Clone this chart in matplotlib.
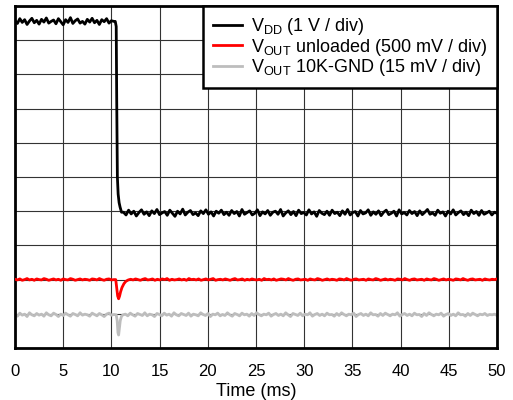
import numpy as np
import matplotlib
matplotlib.use('Agg')
import matplotlib.pyplot as plt

plt.rcParams['font.family'] = ['Liberation Sans', 'DejaVu Sans']
plt.rcParams['mathtext.fontset'] = 'custom'
plt.rcParams['mathtext.rm'] = 'Liberation Sans'

# values in scope divisions (0..10), time in ms
vdd_pre = [9.57, 9.49, 9.63, 9.52, 9.60, 9.46, 9.56, 9.64, 9.51, 9.58,
           9.47, 9.61, 9.53, 9.65, 9.50, 9.55, 9.59, 9.48, 9.63, 9.54,
           9.45, 9.60, 9.52, 9.66, 9.49, 9.57, 9.62, 9.50, 9.55, 9.47,
           9.61, 9.53, 9.64, 9.51, 9.58, 9.46, 9.60, 9.54, 9.63, 9.50,
           9.57, 9.55]
vdd_edge_t = [10.4, 10.5, 10.55, 10.62, 10.7, 10.8, 10.9, 11.05]
vdd_edge = [9.55, 9.40, 7.30, 5.00, 4.50, 4.25, 4.12, 3.97]
vdd_post = [3.97, 3.89, 4.03, 3.92, 4.00, 3.86, 3.96, 4.04, 3.91, 3.98,
            3.87, 4.01, 3.93, 4.05, 3.90, 3.95, 3.99, 3.88, 4.03, 3.94,
            3.85, 4.00, 3.92, 4.06, 3.89, 3.97, 4.02, 3.90, 3.95, 3.87,
            4.01, 3.93, 4.04, 3.91, 3.98, 3.86, 4.00, 3.94, 4.03, 3.90,
            3.97, 3.88, 4.02, 3.93, 3.99, 3.86, 4.05, 3.91, 3.96, 4.01,
            3.89, 3.94, 4.04, 3.87, 3.98, 3.92, 4.02, 3.88, 3.97, 4.00,
            3.91, 4.05, 3.86, 3.95, 4.01, 3.90, 3.99, 3.87, 4.03, 3.93,
            3.96, 3.89, 4.04, 3.92, 3.98, 3.85, 4.02, 3.94, 3.90, 4.00,
            3.88, 4.03, 3.93, 3.97, 3.87, 4.01, 3.91, 4.05, 3.89, 3.96,
            3.99, 3.86, 4.02, 3.92, 3.95, 4.04, 3.88, 3.98, 3.91, 4.01,
            3.87, 3.97, 4.03, 3.90, 3.94, 4.00, 3.86, 4.04, 3.92, 3.96,
            3.89, 4.02, 3.93, 3.99, 3.87, 4.01, 3.90, 3.97, 4.05, 3.91,
            3.95, 3.88, 4.03, 3.94, 3.98, 3.86, 4.00, 3.92, 4.04, 3.89,
            3.96, 4.01, 3.90, 3.97, 3.87, 4.03, 3.93, 3.99, 3.88, 4.02,
            3.91, 3.95, 4.00, 3.89, 3.97, 3.94]

red_pre = [2.01, 1.99, 2.02, 1.98, 2.00, 2.03, 1.99, 2.01, 1.98, 2.02,
           2.00, 1.99, 2.03, 2.01, 1.98, 2.00, 2.02, 1.99, 2.01, 1.98,
           2.02, 2.00, 1.99, 2.03, 2.01, 1.98, 2.00, 2.02, 1.99, 2.01,
           2.00, 1.98, 2.02, 2.01, 1.99, 2.03, 2.00, 1.98, 2.01, 2.02,
           1.99, 2.00]
red_dip_t = [10.45, 10.55, 10.65, 10.75, 10.85, 10.95, 11.1, 11.3, 11.5, 11.75]
red_dip = [2.00, 1.75, 1.52, 1.44, 1.52, 1.64, 1.77, 1.88, 1.95, 1.99]
red_post = [2.01, 1.99, 2.02, 2.00, 1.98, 2.01, 2.03, 1.99, 2.00, 2.02,
            1.98, 2.01, 1.99, 2.02, 2.00, 2.03, 1.98, 2.01, 1.99, 2.00,
            2.02, 1.99, 2.01, 1.98, 2.03, 2.00, 2.01, 1.99, 2.02, 1.98,
            2.00, 2.02, 1.99, 2.01, 2.03, 1.98, 2.00, 2.01, 1.99, 2.02,
            2.00, 1.98, 2.01, 2.03, 1.99, 2.00, 2.02, 1.98, 2.01, 1.99,
            2.02, 2.00, 1.99, 2.01, 1.98, 2.03, 2.00, 2.01, 1.99, 2.02,
            1.98, 2.00, 2.02, 2.01, 1.99, 2.03, 2.00, 1.98, 2.01, 2.02,
            1.99, 2.00, 2.01, 1.98, 2.02, 2.00, 1.99, 2.03, 2.01, 1.98,
            2.00, 2.02, 1.99, 2.01, 2.00, 1.98, 2.02, 2.01, 1.99, 2.03,
            2.00, 1.98, 2.01, 2.02, 1.99, 2.00, 2.01, 1.98, 2.02, 2.00,
            1.99, 2.03, 2.01, 1.98, 2.00, 2.02, 1.99, 2.01, 2.00, 1.98,
            2.02, 2.01, 1.99, 2.03, 2.00, 1.98, 2.01, 2.02, 1.99, 2.00,
            2.01, 1.98, 2.02, 2.00, 1.99, 2.03, 2.01, 1.98, 2.00, 2.02,
            1.99, 2.01, 2.00, 1.98, 2.02, 2.01, 1.99, 2.03, 2.00, 1.98,
            2.01, 2.02, 1.99, 2.00, 2.01, 1.98, 2.02, 2.00, 1.99, 2.01,
            2.00, 2.02]

gray_pre = [0.98, 0.93, 1.02, 0.96, 0.99, 0.92, 1.03, 0.97, 0.94, 1.01,
            0.96, 0.99, 0.93, 1.03, 0.97, 0.94, 1.02, 0.98, 0.92, 0.99,
            0.95, 1.02, 0.97, 0.93, 1.01, 0.98, 0.94, 1.03, 0.96, 0.99,
            0.97, 0.93, 1.02, 0.98, 0.94, 1.01, 0.97, 0.92, 0.99, 1.02,
            0.96, 0.98]
gray_dip_t = [10.5, 10.6, 10.68, 10.75, 10.82, 10.92, 11.05, 11.2]
gray_dip = [0.97, 0.80, 0.45, 0.38, 0.55, 0.80, 0.93, 0.97]
gray_post = [0.99, 0.94, 1.02, 0.97, 0.93, 1.01, 0.98, 0.95, 1.03, 0.94,
             0.99, 0.97, 0.92, 1.01, 0.98, 0.94, 1.02, 0.96, 0.99, 0.93,
             1.03, 0.97, 0.94, 1.01, 0.98, 0.95, 1.02, 0.93, 0.99, 0.97,
             0.94, 1.03, 0.98, 0.95, 1.01, 0.92, 0.99, 0.97, 1.02, 0.94,
             0.98, 0.95, 1.03, 0.97, 0.93, 1.01, 0.98, 0.94, 1.02, 0.97,
             0.99, 0.93, 1.01, 0.95, 1.03, 0.98, 0.94, 0.99, 0.97, 1.02,
             0.93, 0.98, 1.01, 0.95, 0.99, 0.94, 1.03, 0.97, 0.92, 1.01,
             0.98, 0.95, 1.02, 0.94, 0.99, 0.97, 1.03, 0.93, 0.98, 1.01,
             0.95, 0.99, 0.94, 1.02, 0.97, 0.98, 0.93, 1.01, 0.95, 1.03,
             0.98, 0.94, 0.99, 0.97, 1.02, 0.92, 0.98, 1.01, 0.95, 0.99,
             0.94, 1.03, 0.97, 0.98, 0.93, 1.01, 0.95, 1.02, 0.98, 0.94,
             0.99, 0.97, 1.03, 0.93, 0.98, 1.01, 0.95, 0.99, 0.94, 1.02,
             0.97, 0.98, 0.92, 1.01, 0.95, 1.03, 0.98, 0.94, 0.99, 0.97,
             1.02, 0.93, 0.98, 1.01, 0.95, 0.99, 0.94, 1.03, 0.97, 0.98,
             0.93, 1.01, 0.95, 1.02, 0.98, 0.94, 0.99, 0.97, 1.01, 0.95,
             0.98, 0.97, 0.99, 0.95]

x_ticks = [0, 5, 10, 15, 20, 25, 30, 35, 40, 45, 50]
labels = [r'V$_\mathrm{DD}$ (1 V / div)',
          r'V$_\mathrm{OUT}$ unloaded (500 mV / div)',
          r'V$_\mathrm{OUT}$ 10K-GND (15 mV / div)']

# assemble traces
t_vdd = np.concatenate([np.linspace(0, 10.25, len(vdd_pre)), vdd_edge_t,
                        np.linspace(11.25, 50, len(vdd_post))])
y_vdd = np.concatenate([vdd_pre, vdd_edge, vdd_post])
t_red = np.concatenate([np.linspace(0, 10.25, len(red_pre)), red_dip_t,
                        np.linspace(12.0, 50, len(red_post))])
y_red = np.concatenate([red_pre, red_dip, red_post])
t_gray = np.concatenate([np.linspace(0, 10.25, len(gray_pre)), gray_dip_t,
                         np.linspace(11.45, 50, len(gray_post))])
y_gray = np.concatenate([gray_pre, gray_dip, gray_post])

fig = plt.figure(figsize=(5.13, 4.0), dpi=100)
ax = fig.add_axes([15/513, 52/400, 482/513, 342/400])

ax.plot(t_vdd, y_vdd, color='black', lw=2.0, label=labels[0], zorder=4)
ax.plot(t_red, y_red, color='#ff0000', lw=2.0, label=labels[1], zorder=3)
ax.plot(t_gray, y_gray, color='#bdbdbd', lw=2.0, label=labels[2], zorder=2)

ax.set_xlim(0, 50)
ax.set_ylim(0, 10)
ax.set_xticks(x_ticks)
ax.set_yticks(range(11))
ax.set_yticklabels([])
ax.tick_params(length=0, labelsize=12, pad=11.4)
ax.grid(True, color='#333333', lw=0.8)
ax.set_axisbelow(True)
for s in ax.spines.values():
    s.set_linewidth(2)
ax.set_xlabel('Time (ms)', fontsize=13, labelpad=3)

leg = ax.legend(loc='upper right', borderaxespad=0, fontsize=13,
                fancybox=False, framealpha=1, edgecolor='black',
                handlelength=1.6, labelspacing=-0.02, borderpad=0.55,
                handletextpad=0.5)
leg.get_frame().set_linewidth(1.8)
for h in leg.get_lines():
    h.set_linewidth(2)

fig.savefig('out.png', dpi=100)
